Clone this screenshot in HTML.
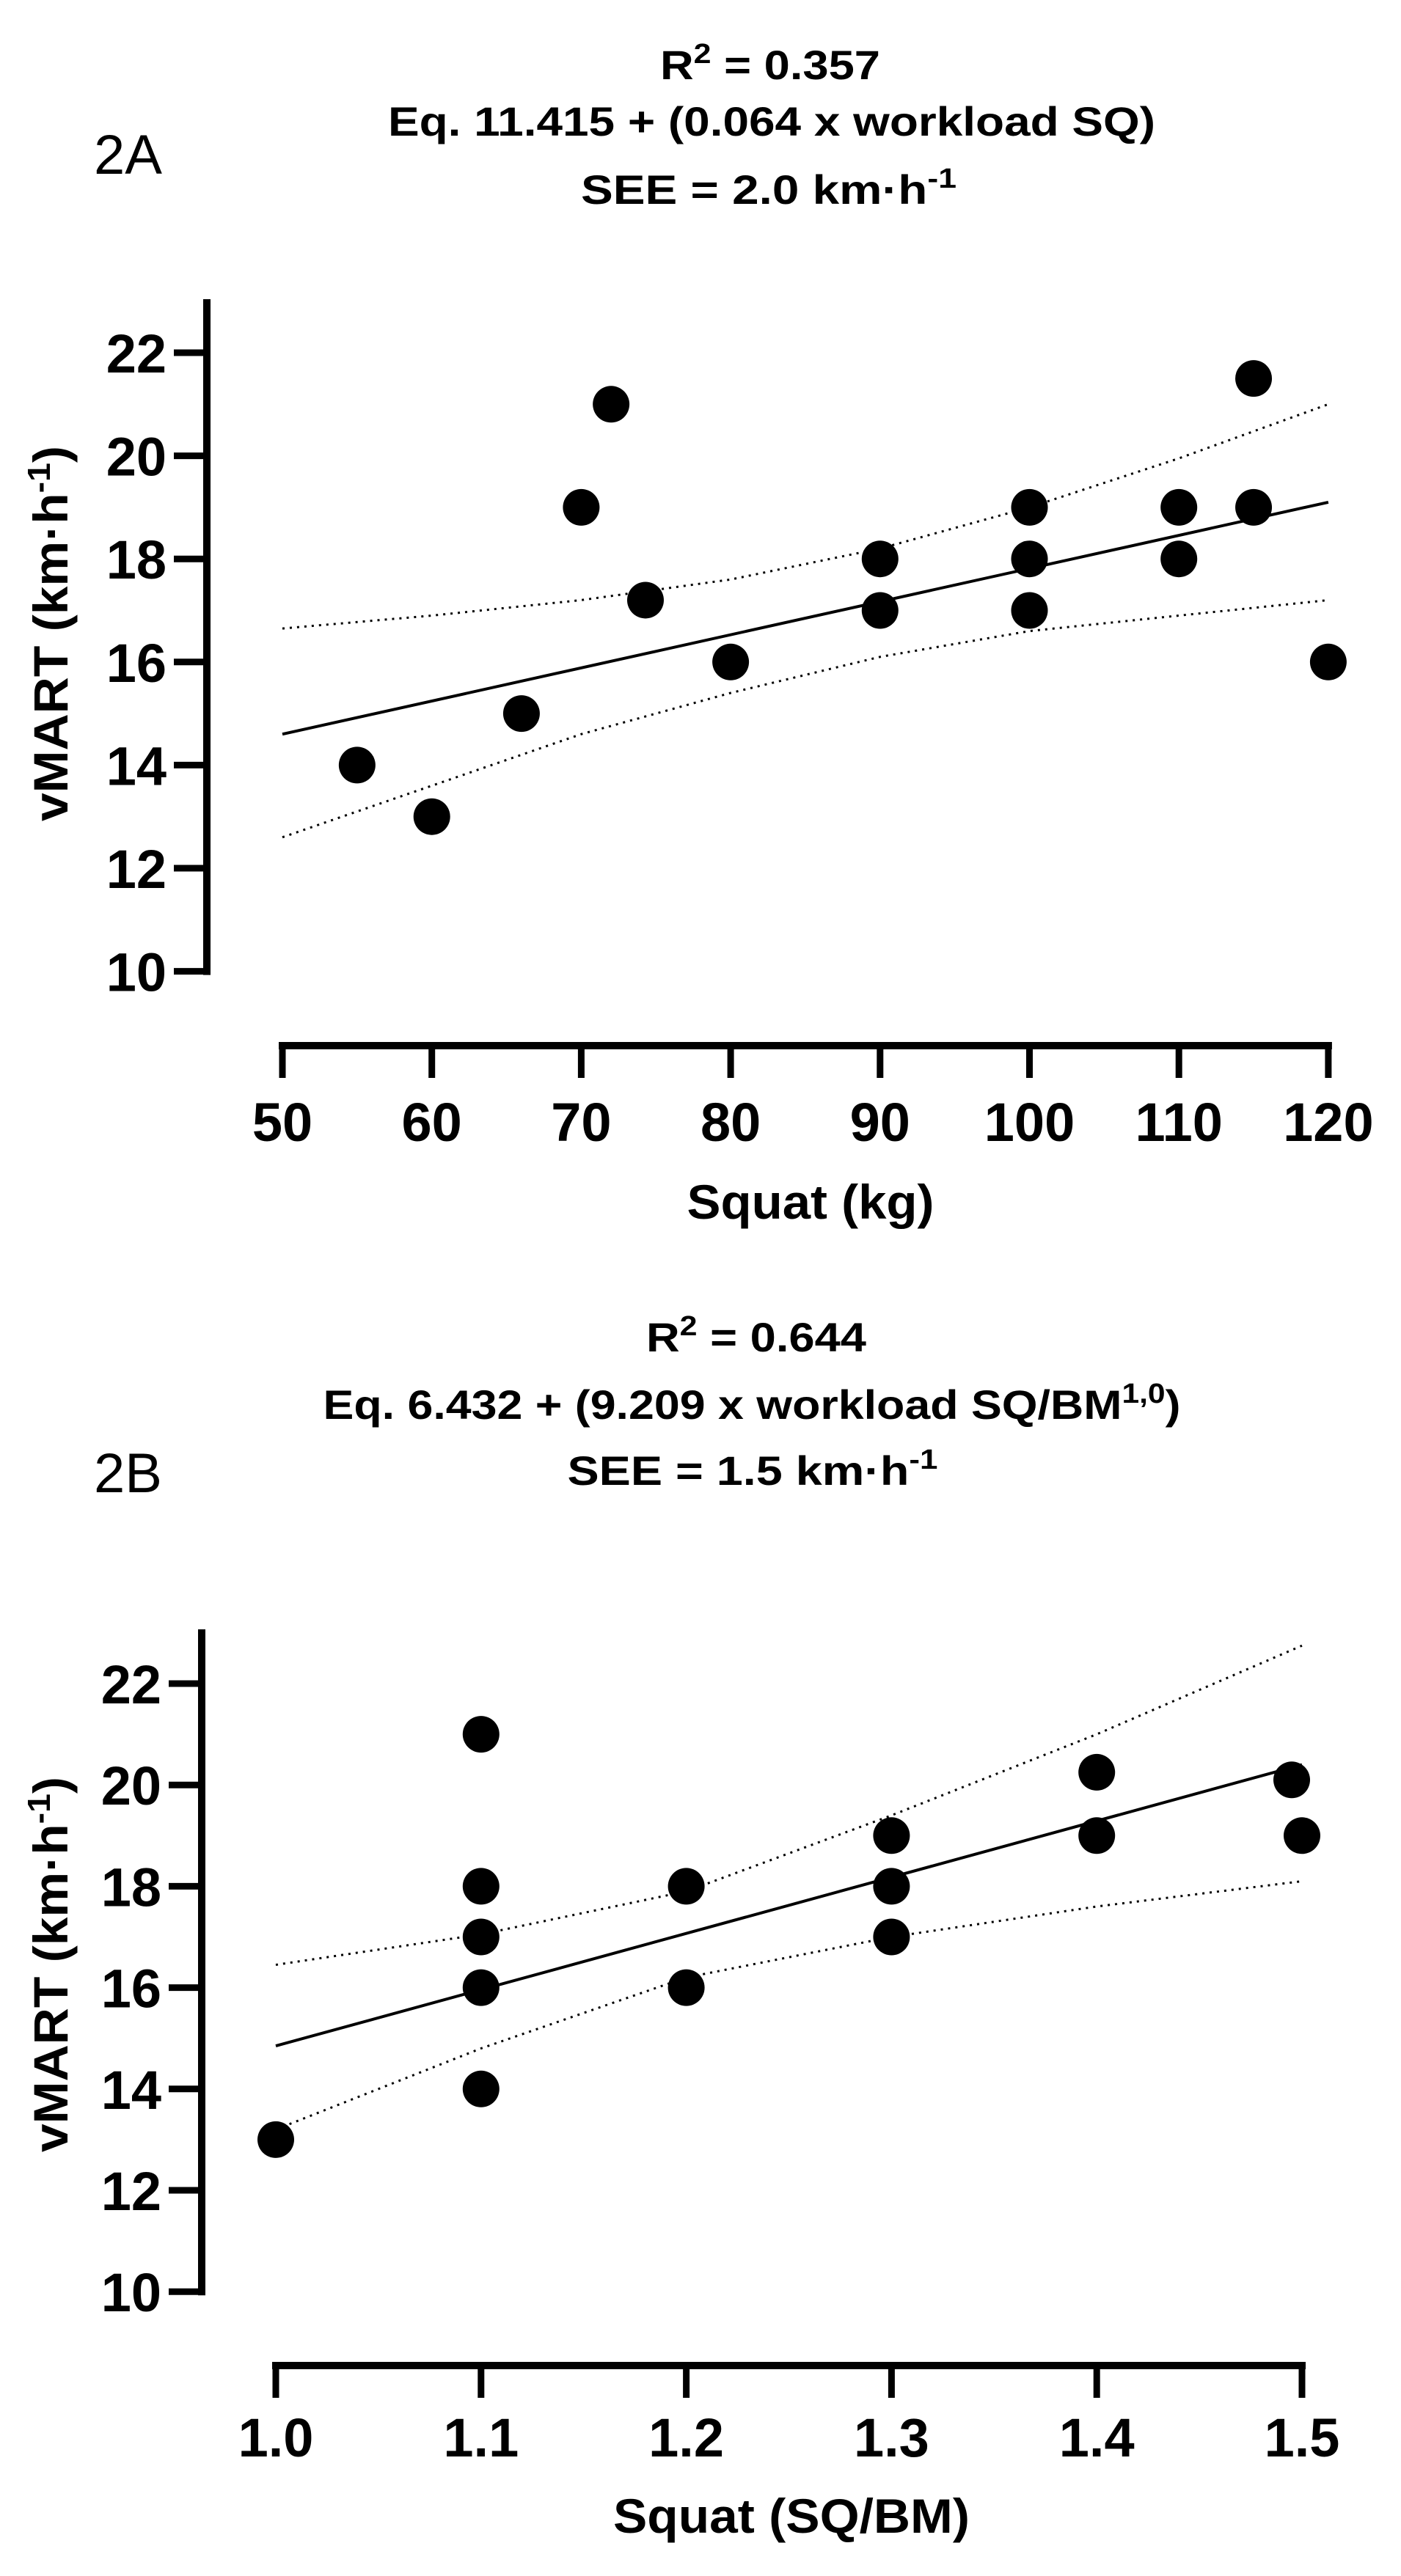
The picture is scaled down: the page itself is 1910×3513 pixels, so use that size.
<!DOCTYPE html>
<html><head><meta charset="utf-8">
<style>
html,body{margin:0;padding:0;background:#fff;}
svg{display:block;font-family:"Liberation Sans",Arial,sans-serif;}
.t{font-weight:bold;font-size:56px;text-anchor:middle;}
.tick{font-weight:bold;font-size:74px;}
.ax{font-weight:bold;font-size:66px;text-anchor:middle;}
</style></head>
<body>
<svg id="chart" width="1910" height="3513" viewBox="0 0 1910 3513" xmlns="http://www.w3.org/2000/svg">
  <g>
    <text x="128" y="237" font-size="76">2A</text>
    <text class="t" x="1050" y="108" textLength="300" lengthAdjust="spacingAndGlyphs">R<tspan dy="-22" font-size="38">2</tspan><tspan dy="22"> = 0.357</tspan></text>
    <text class="t" x="1052" y="185" textLength="1046" lengthAdjust="spacingAndGlyphs">Eq. 11.415 + (0.064 x workload SQ)</text>
    <text class="t" x="1048" y="278" textLength="512" lengthAdjust="spacingAndGlyphs">SEE = 2.0 km·h<tspan dy="-22" font-size="38">-1</tspan></text>
  </g>
  <g>
    <text x="128" y="2035" font-size="76">2B</text>
    <text class="t" x="1031" y="1843" textLength="300" lengthAdjust="spacingAndGlyphs">R<tspan dy="-22" font-size="38">2</tspan><tspan dy="22"> = 0.644</tspan></text>
    <text class="t" x="1025" y="1935" textLength="1169" lengthAdjust="spacingAndGlyphs">Eq. 6.432 + (9.209 x workload SQ/BM<tspan dy="-22" font-size="38">1,0</tspan><tspan dy="22">)</tspan></text>
    <text class="t" x="1026" y="2025" textLength="505" lengthAdjust="spacingAndGlyphs">SEE = 1.5 km·h<tspan dy="-22" font-size="38">-1</tspan></text>
  </g>
  <g id="plotA"></g>
  <g id="plotB"></g>
</svg>
<script>
// Panel A data
const aX = [55, 60, 66, 70, 72, 74.3, 80, 90, 90, 100, 100, 100, 110, 110, 115, 115, 120];
const aY = [14, 13, 15, 19, 21, 17.2, 16, 18, 17, 19, 18, 17, 19, 18, 21.5, 19, 16];
const aFitX = [50, 120];
const aFitY = [14.6, 19.1];
const aBandX = [50, 60, 70, 80, 90, 100, 110, 120];
const aUpper = [16.65, 16.9, 17.2, 17.6, 18.2, 19.0, 19.95, 21.0];
const aLower = [12.6, 13.6, 14.6, 15.4, 16.1, 16.6, 16.9, 17.2];
const aXTicks = [50, 60, 70, 80, 90, 100, 110, 120];
const aYTicks = [10, 12, 14, 16, 18, 20, 22];
// Panel B data
const bX = [1.0, 1.1, 1.1, 1.1, 1.1, 1.1, 1.2, 1.2, 1.3, 1.3, 1.3, 1.4, 1.4, 1.495, 1.5];
const bY = [13, 21, 18, 17, 16, 14, 18, 16, 19, 18, 17, 20.25, 19, 20.1, 19];
const bFitX = [1.0, 1.5];
const bFitY = [14.85, 20.4];
const bBandX = [1.0, 1.1, 1.2, 1.3, 1.4, 1.5];
const bUpper = [16.45, 17.05, 17.9, 19.4, 21.0, 22.75];
const bLower = [13.2, 14.8, 16.2, 17.0, 17.6, 18.1];
const bXTicks = [1.0, 1.1, 1.2, 1.3, 1.4, 1.5];
const bYTicks = [10, 12, 14, 16, 18, 20, 22];

const NS = "http://www.w3.org/2000/svg";
function mk(parent, tag, attrs) {
  const e = document.createElementNS(NS, tag);
  for (const k in attrs) e.setAttribute(k, attrs[k]);
  parent.appendChild(e);
  return e;
}
function pathD(xs, ys, sx, sy) {
  return xs.map((v, i) => (i ? "L" : "M") + sx(v).toFixed(1) + " " + sy(ys[i]).toFixed(1)).join(" ");
}
function drawPanel(g, cfg) {
  const sx = v => cfg.x0 + (v - cfg.xmin) * cfg.xs;
  const sy = v => cfg.y22 + (22 - v) * cfg.ys;
  const yAxis = mk(g, "line", {x1: cfg.yAxisX, y1: cfg.yTop, x2: cfg.yAxisX, y2: sy(10) + 5, stroke: "#000", "stroke-width": 10});
  
  
  cfg.yTicks.forEach(t => {
    const tk = mk(g, "line", {x1: cfg.yAxisX - 45, y1: sy(t), x2: cfg.yAxisX, y2: sy(t), stroke: "#000", "stroke-width": 9});
    
    
    const lb = mk(g, "text", {x: cfg.yAxisX - 55, y: sy(t) + 27, "text-anchor": "end", class: "tick"});
    lb.textContent = t;
    
    
  });
  const xa = mk(g, "line", {x1: sx(cfg.xTicks[0]) - 5, y1: cfg.xAxisY, x2: sx(cfg.xTicks[cfg.xTicks.length - 1]) + 5, y2: cfg.xAxisY, stroke: "#000", "stroke-width": 10});
  
  
  cfg.xTicks.forEach(t => {
    const tk = mk(g, "line", {x1: sx(t), y1: cfg.xAxisY, x2: sx(t), y2: cfg.xAxisY + 44, stroke: "#000", "stroke-width": 9});
    
    
    const lb = mk(g, "text", {x: sx(t), y: cfg.xLabelY, "text-anchor": "middle", class: "tick"});
    lb.textContent = cfg.xFmt(t);
    
    
  });
  const yt = mk(g, "text", {class: "ax", textLength: 512, lengthAdjust: "spacingAndGlyphs", transform: "translate(" + (cfg.yTitleX) + "," + cfg.yTitleY + ") rotate(-90)"});
  yt.innerHTML = 'vMART (km·h<tspan dy="-24" font-size="44">-1</tspan><tspan dy="24">)</tspan>';
  
  
  const xt = mk(g, "text", {class: "ax", x: cfg.xTitleX, y: cfg.xTitleY, textLength: cfg.xTitleLen, lengthAdjust: "spacingAndGlyphs"});
  xt.textContent = cfg.xTitle;
  
  
  const up = mk(g, "path", {d: pathD(cfg.bandX, cfg.upper, sx, sy), fill: "none", stroke: "#000", "stroke-width": 3, "stroke-dasharray": "3 7"});
  
  
  const lo = mk(g, "path", {d: pathD(cfg.bandX, cfg.lower, sx, sy), fill: "none", stroke: "#000", "stroke-width": 3, "stroke-dasharray": "3 7"});
  
  
  const fit = mk(g, "path", {d: pathD(cfg.fitX, cfg.fitY, sx, sy), fill: "none", stroke: "#000", "stroke-width": 4});
  
  
  cfg.px.forEach((v, i) => {
    const c = mk(g, "circle", {cx: sx(v), cy: sy(cfg.py[i]), r: 25, fill: "#000"});
    
    
  });
}
drawPanel(document.getElementById("plotA"), {
  x0: 385, xmin: 50, xs: 20.37, y22: 481, ys: 70.3, yAxisX: 282, yTop: 408, xAxisY: 1426, xLabelY: 1556,
  xTicks: aXTicks, yTicks: aYTicks, xFmt: t => String(t),
  yTitleX: 92, yTitleY: 864, xTitleX: 1105, xTitleY: 1662, xTitle: "Squat (kg)", xTitleLen: 337,
  bandX: aBandX, upper: aUpper, lower: aLower, fitX: aFitX, fitY: aFitY, px: aX, py: aY
});
drawPanel(document.getElementById("plotB"), {
  x0: 376, xmin: 1.0, xs: 2798, y22: 2296, ys: 69.1, yAxisX: 275, yTop: 2222, xAxisY: 3226, xLabelY: 3350,
  xTicks: bXTicks, yTicks: bYTicks, xFmt: t => t.toFixed(1),
  yTitleX: 92, yTitleY: 2679, xTitleX: 1079, xTitleY: 3454, xTitle: "Squat (SQ/BM)", xTitleLen: 486,
  bandX: bBandX, upper: bUpper, lower: bLower, fitX: bFitX, fitY: bFitY, px: bX, py: bY
});
</script>
</body></html>
